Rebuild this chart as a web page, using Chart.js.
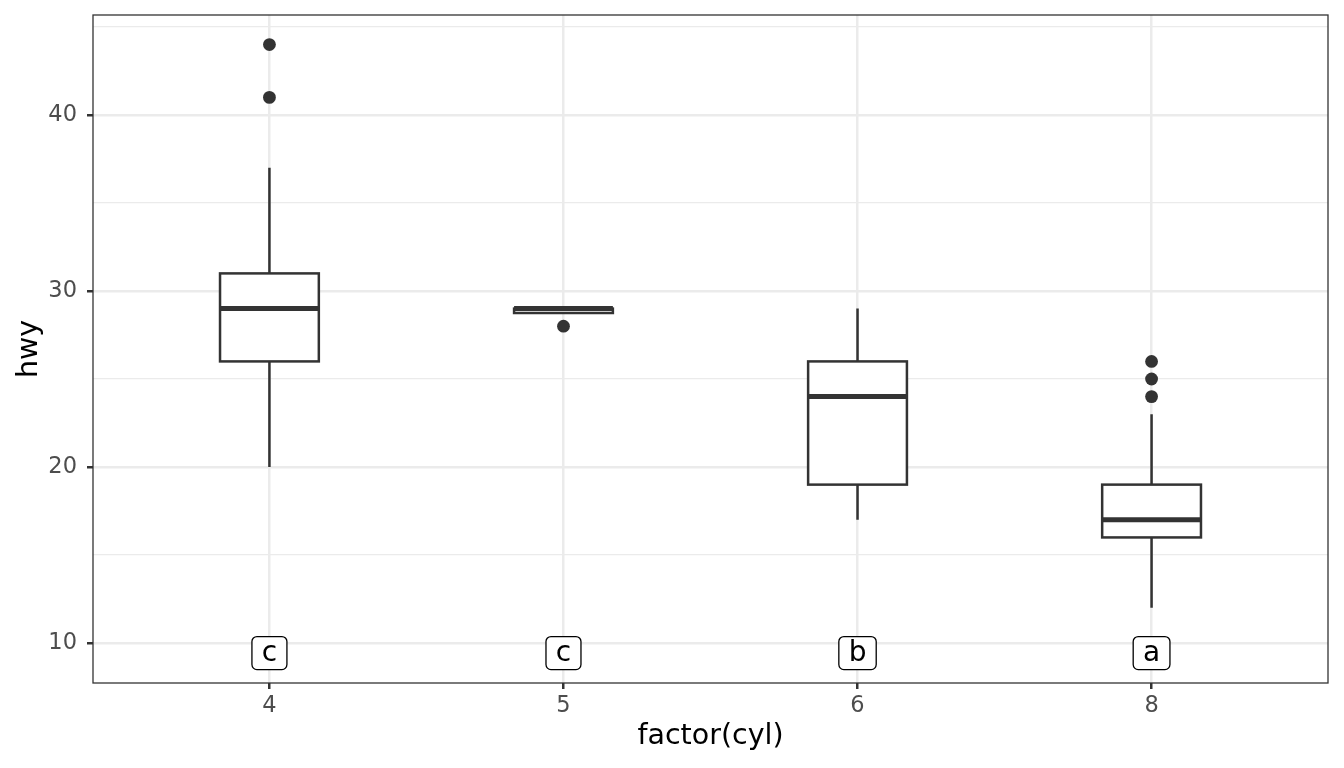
<!DOCTYPE html>
<html>
<head>
<meta charset="utf-8">
<script src="https://cdn.jsdelivr.net/npm/chart.js@4.4.1/dist/chart.umd.min.js"></script>
<style>
  html, body { margin: 0; padding: 0; background: #fff; }
  #wrap { width: 1344px; height: 768px; }
</style>
</head>
<body>
<div id="wrap"><canvas id="box"></canvas></div>
<script>
// mpg: hwy by number of cylinders
const cylinders = ['4', '5', '6', '8'];
const lowerWhisker = [20, 29, 17, 12];
const q1 = [26, 28.75, 19, 16];
const medians = [29, 29, 24, 17];
const q3 = [31, 29, 26, 19];
const upperWhisker = [37, 29, 29, 23];
const outliers = [[41, 44], [28], [], [24, 25, 26]];
const groupLetters = ['c', 'c', 'b', 'a'];
const letterLevel = 9.43;

const yTicks = [10, 15, 20, 25, 30, 35, 40, 45];

const FONT = "'DejaVu Sans', 'Liberation Sans', sans-serif";
const INK = '#333333';
const GRID = '#ebebeb';

const outlierPoints = [];
outliers.forEach((vals, i) => vals.forEach(v => outlierPoints.push({ x: i + 1, y: v })));

const boxPlugin = {
  id: 'boxes',
  beforeDatasetsDraw(chart) {
    const { ctx, scales: { x, y } } = chart;
    const half = 0.168;
    ctx.save();
    ctx.strokeStyle = INK;
    ctx.lineCap = 'butt';
    cylinders.forEach((c, i) => {
      const cx = x.getPixelForValue(i + 1);
      const l = x.getPixelForValue(i + 1 - half);
      const r = x.getPixelForValue(i + 1 + half);
      // whiskers
      ctx.lineWidth = 2.5;
      ctx.beginPath();
      ctx.moveTo(cx, y.getPixelForValue(upperWhisker[i]));
      ctx.lineTo(cx, y.getPixelForValue(q3[i]));
      ctx.moveTo(cx, y.getPixelForValue(q1[i]));
      ctx.lineTo(cx, y.getPixelForValue(lowerWhisker[i]));
      ctx.stroke();
      // box
      const top = y.getPixelForValue(q3[i]);
      const bot = y.getPixelForValue(q1[i]);
      ctx.fillStyle = '#ffffff';
      ctx.fillRect(l, top, r - l, bot - top);
      ctx.strokeRect(l, top, r - l, bot - top);
      // median
      ctx.lineWidth = 5;
      ctx.beginPath();
      const my = y.getPixelForValue(medians[i]);
      ctx.moveTo(l, my);
      ctx.lineTo(r, my);
      ctx.stroke();
    });
    ctx.restore();
  },
  afterDatasetsDraw(chart) {
    const { ctx, scales: { x, y } } = chart;
    ctx.save();
    ctx.font = '28px ' + FONT;
    ctx.textAlign = 'center';
    ctx.textBaseline = 'alphabetic';
    groupLetters.forEach((t, i) => {
      const cx = x.getPixelForValue(i + 1);
      const cy = y.getPixelForValue(letterLevel);
      const w = ctx.measureText(t).width + 19.6;
      const h = 33;
      ctx.beginPath();
      ctx.roundRect(cx - w / 2, cy - h / 2, w, h, 5);
      ctx.fillStyle = '#ffffff';
      ctx.fill();
      ctx.lineWidth = 1.3;
      ctx.strokeStyle = '#000000';
      ctx.stroke();
      ctx.fillStyle = '#000000';
      ctx.fillText(t, cx, cy + 7.7);
    });
    ctx.restore();
  },
  afterDraw(chart) {
    const { ctx, chartArea: a } = chart;
    ctx.save();
    ctx.strokeStyle = INK;
    ctx.lineWidth = 1.3;
    ctx.strokeRect(a.left, a.top, a.right - a.left, a.bottom - a.top);
    ctx.restore();
  }
};

new Chart(document.getElementById('box'), {
  type: 'scatter',
  data: {
    datasets: [{
      label: 'outliers',
      data: outlierPoints,
      pointRadius: 6.4,
      pointHoverRadius: 6.4,
      backgroundColor: INK,
      borderColor: INK,
      borderWidth: 0
    }]
  },
  options: {
    responsive: true,
    maintainAspectRatio: false,
    devicePixelRatio: 1,
    animation: false,
    layout: { padding: { top: 15, right: 16, left: 0, bottom: 0 } },
    plugins: { legend: { display: false }, tooltip: { enabled: false } },
    scales: {
      x: {
        type: 'linear',
        min: 0.4,
        max: 4.6,
        afterBuildTicks: (s) => { s.ticks = cylinders.map((c, i) => ({ value: i + 1 })); },
        afterFit: (s) => { s.height = 85; s.paddingLeft = 0; s.paddingRight = 0; },
        border: { display: false },
        grid: { color: GRID, lineWidth: 2.5, tickColor: INK, tickLength: 6, tickWidth: 2.5 },
        ticks: {
          padding: 4,
          color: '#4d4d4d',
          font: { family: FONT, size: 22.5 },
          maxRotation: 0,
          callback: (v) => cylinders[v - 1]
        },
        title: {
          display: true,
          text: 'factor(cyl)',
          color: '#000000',
          font: { family: FONT, size: 28.5 },
          padding: { top: 0, bottom: 14 }
        }
      },
      y: {
        min: 7.73,
        max: 45.68,
        afterBuildTicks: (s) => { s.ticks = yTicks.map(v => ({ value: v })); },
        afterFit: (s) => { s.width = 93; s.paddingTop = 0; s.paddingBottom = 0; },
        border: { display: false },
        grid: {
          color: GRID,
          lineWidth: (c) => (c.tick && c.tick.value % 10 === 0 ? 2.5 : 1.3),
          tickColor: (c) => (c.tick && c.tick.value % 10 === 0 ? INK : 'rgba(0,0,0,0)'),
          tickLength: 6,
          tickWidth: 2.5
        },
        ticks: {
          padding: 10,
          color: '#4d4d4d',
          font: { family: FONT, size: 22.5 },
          callback: (v) => (v % 10 === 0 ? String(v) : '')
        },
        title: {
          display: true,
          text: 'hwy',
          color: '#000000',
          font: { family: FONT, size: 28.5 },
          padding: { top: 12, bottom: 0 }
        }
      }
    }
  },
  plugins: [boxPlugin]
});
</script>
</body>
</html>
